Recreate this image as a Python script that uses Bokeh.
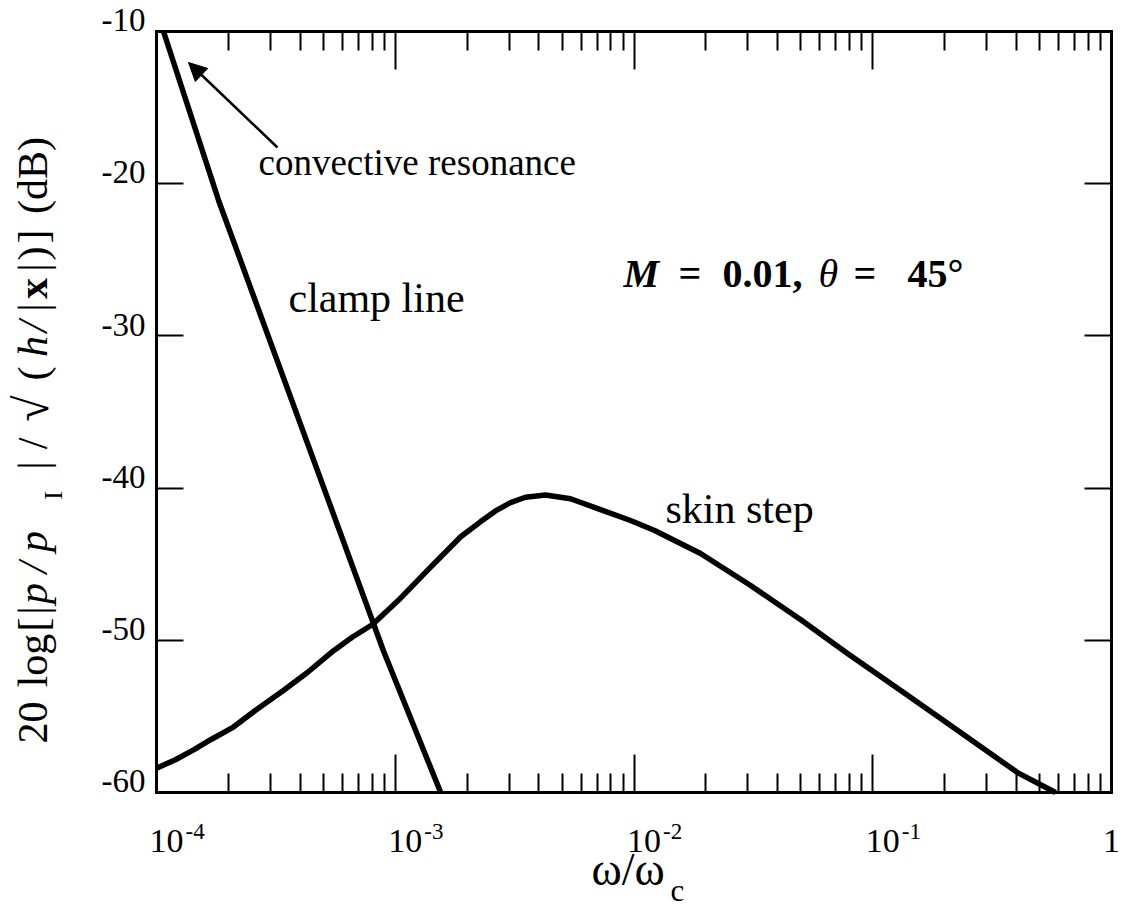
import math
from bokeh.plotting import figure
from bokeh.models import (Range1d, FixedTicker, LogAxis, LinearAxis, Label,
                          Arrow, NormalHead, CustomJSTickFormatter)
from bokeh.embed import file_html
from bokeh.resources import INLINE

# ---------------- data ----------------
clamp_x = [1.07e-4, 1.82e-4, 8.93e-4, 1.55e-3]
clamp_y = [-10.0, -21.1, -50.7, -60.0]

skin_x = [1.0e-4, 1.2e-4, 1.43e-4, 1.7e-4, 2.1e-4, 2.6e-4, 3.4e-4, 4.3e-4,
          5.5e-4, 6.6e-4, 8.03e-4, 1.05e-3, 1.40e-3, 1.88e-3, 2.28e-3, 2.63e-3,
          3.04e-3, 3.51e-3, 4.26e-3, 5.42e-3, 7.24e-3, 9.67e-3, 1.22e-2, 1.90e-2,
          3.08e-2, 4.98e-2, 7.84e-2, 0.131, 0.212, 0.404, 0.583]
skin_y = [-58.4, -57.85, -57.2, -56.5, -55.7, -54.6, -53.3, -52.1,
          -50.7, -49.8, -48.96, -47.25, -45.22, -43.2, -42.2, -41.5,
          -40.95, -40.6, -40.45, -40.7, -41.41, -42.13, -42.79, -44.30,
          -46.40, -48.63, -50.87, -53.30, -55.60, -58.69, -60.0]

x_major = [1e-4, 1e-3, 1e-2, 1e-1, 1.0]
x_major_base = ["10", "10", "10", "10", "1"]
x_major_exp = ["-4", "-3", "-2", "-1", ""]
x_minor = [m * 10.0 ** e for e in range(-4, 0) for m in range(2, 10)]
y_major = [-60, -50, -40, -30, -20, -10]
y_major_labels = ["-60", "-50", "-40", "-30", "-20", "-10"]

SERIF = "Liberation Serif"

# ---------------- geometry (pixels) ----------------
W, H = 1124, 924
FX0, FX1, FY0, FY1 = 156, 1111, 31, 792     # the boxed plot area
XMIN, XMAX, YMIN, YMAX = 1e-4, 1.0, -60.0, -10.0


def dx(px):
    lo, hi = math.log10(XMIN), math.log10(XMAX)
    return 10 ** (lo + (hi - lo) * (px - FX0) / (FX1 - FX0))


def dy(py):
    return YMAX - (YMAX - YMIN) * (py - FY0) / (FY1 - FY0)


def px_of_x(x):
    lo, hi = math.log10(XMIN), math.log10(XMAX)
    return FX0 + (math.log10(x) - lo) / (hi - lo) * (FX1 - FX0)


def py_of_y(y):
    return FY0 + (YMAX - y) / (YMAX - YMIN) * (FY1 - FY0)


# the drawing frame covers the whole canvas; the box is made of axes at fixed locations
p = figure(width=W, height=H, x_axis_type="log",
           x_range=Range1d(dx(0), dx(W)), y_range=Range1d(dy(H), dy(0)),
           output_backend="svg", toolbar_location=None, min_border=0)
p.xgrid.visible = False
p.ygrid.visible = False
p.background_fill_color = "white"
p.border_fill_color = "white"
p.outline_line_color = None

blank = CustomJSTickFormatter(code="return ''")


def style_common(ax):
    ax.formatter = blank
    ax.major_tick_out = 0
    ax.minor_tick_out = 0
    ax.major_tick_line_width = 2
    ax.minor_tick_line_width = 2
    ax.major_tick_line_color = "black"
    ax.minor_tick_line_color = "black"
    ax.axis_line_width = 3
    ax.axis_line_color = "black"
    ax.axis_line_cap = "square"
    ax.major_label_standoff = 0
    ax.axis_label = None


def style_x(ax, yloc):
    style_common(ax)
    ax.ticker = FixedTicker(ticks=x_major, minor_ticks=x_minor)
    ax.bounds = (XMIN, XMAX)
    ax.fixed_location = yloc
    ax.major_tick_in = 38
    ax.minor_tick_in = 19


def style_y(ax, xloc):
    style_common(ax)
    ax.ticker = FixedTicker(ticks=y_major)
    ax.bounds = (YMIN, YMAX)
    ax.fixed_location = xloc
    ax.major_tick_in = 27
    ax.minor_tick_line_color = None


style_x(p.xaxis[0], YMIN)
style_y(p.yaxis[0], XMIN)
top_ax = LogAxis()
style_x(top_ax, YMAX)
p.add_layout(top_ax, "above")
right_ax = LinearAxis()
style_y(right_ax, XMAX)
p.add_layout(right_ax, "right")

# ---------------- curves ----------------
p.line(clamp_x, clamp_y, line_color="black", line_width=5.5, line_join="round")
p.line(skin_x, skin_y, line_color="black", line_width=5.5, line_join="round")

MID = 0.34  # distance (in em) from the alphabetic baseline to the text middle


def lab(px, py, text, size, style="normal", align="left", angle=0.0):
    """px, py: left/center x and baseline y (pixels) of the text."""
    if angle == 0.0:
        cx, cy = px, py - MID * size
    else:  # rotated 90 deg counter-clockwise: baseline is a vertical line at px
        cx, cy = px - MID * size, py
    p.add_layout(Label(x=dx(cx), y=dy(cy), text=text, text_font=SERIF,
                       text_font_size=f"{size}px", text_font_style=style,
                       text_align=align, text_baseline="middle",
                       angle=angle, text_color="black"))


# ---------------- tick labels ----------------
for xv, base, ex in zip(x_major, x_major_base, x_major_exp):
    tx = px_of_x(xv)
    if ex:
        lab(tx - 7, 852, base, 34)
        lab(tx + 29, 839, ex, 23)
    else:
        lab(tx, 852, base, 34, align="center")

for yv, t in zip(y_major, y_major_labels):
    lab(145, py_of_y(yv), t, 33, align="right")

# ---------------- axis titles ----------------
lab(591, 885, "\u03c9/\u03c9", 46)
lab(670, 901, "c", 31)

rot = math.pi / 2
# (center y, baseline x, text, style, size)
ylab_parts = [
    (722, 47, "20", "normal", 42),
    (660, 47, "log", "normal", 42),
    (624, 47, "[", "normal", 42),
    (610, 47, "|", "normal", 42),
    (593, 47, "p", "italic", 42),
    (567, 47, "/", "italic", 42),
    (541, 47, "p", "italic", 42),
    (495, 62, "I", "normal", 26),
    (465, 47, "|", "normal", 42),
    (443, 47, "/", "normal", 42),
    (408, 47, "\u221a", "normal", 48),
    (373, 47, "(", "normal", 42),
    (346, 47, "h", "italic", 42),
    (326, 47, "/", "italic", 42),
    (307, 47, "|", "normal", 42),
    (288, 47, "x", "bold", 42),
    (267, 47, "|", "normal", 42),
    (253, 47, ")", "normal", 42),
    (236, 47, "]", "normal", 42),
    (175, 47, "(dB)", "normal", 42),
]
for cy, bx, t, st, sz in ylab_parts:
    lab(bx, cy, t, sz, style=st, align="center", angle=rot)

# ---------------- annotations ----------------
lab(258, 175, "convective resonance", 37)
lab(288, 312, "clamp line", 42)
lab(665, 523, "skin step", 42)

lab(623, 287, "M", 40, style="bold italic")
lab(678, 287, "=", 40, style="bold")
lab(722, 287, "0.01,", 40, style="bold")
lab(818, 287, "\u03b8", 40, style="italic")
lab(853, 287, "=", 40, style="bold")
lab(907, 287, "45\u00b0", 40, style="bold")

p.add_layout(Arrow(end=NormalHead(size=18, fill_color="black",
                                  line_color="black", line_width=1),
                   x_start=dx(277), y_start=dy(147),
                   x_end=dx(188), y_end=dy(62),
                   line_width=2.5, line_color="black"))

open("out.html", "w").write(file_html(p, INLINE))
